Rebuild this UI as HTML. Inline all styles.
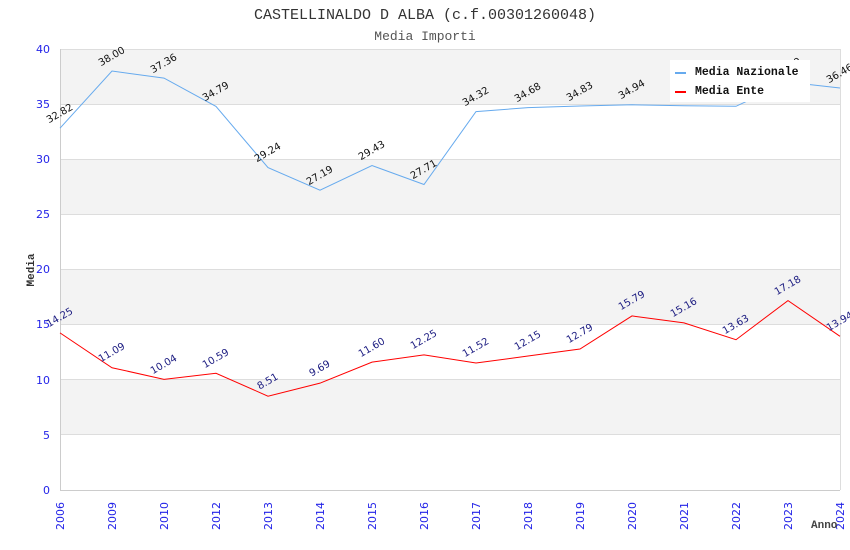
<!DOCTYPE html>
<html>
<head>
<meta charset="utf-8">
<style>
  html,body{margin:0;padding:0;background:#fff;}
  svg{display:block;}
</style>
</head>
<body>
<svg width="850" height="550" viewBox="0 0 850 550" xmlns="http://www.w3.org/2000/svg">
  <rect x="0" y="0" width="850" height="550" fill="#ffffff"/>
  <!-- title -->
  <text x="425" y="19" text-anchor="middle" font-family="Liberation Mono, DejaVu Sans Mono, monospace" font-size="15" fill="#333">CASTELLINALDO D ALBA (c.f.00301260048)</text>
  <text x="425" y="40" text-anchor="middle" font-family="Liberation Mono, DejaVu Sans Mono, monospace" font-size="13" fill="#555">Media Importi</text>

  <!-- bands -->
  <rect x="60" y="49" width="780" height="55.125" fill="#f3f3f3"/>
  <rect x="60" y="159.25" width="780" height="55.125" fill="#f3f3f3"/>
  <rect x="60" y="269.5" width="780" height="55.125" fill="#f3f3f3"/>
  <rect x="60" y="379.75" width="780" height="55.125" fill="#f3f3f3"/>
  <!-- grid lines -->
  <g stroke="#dddddd" stroke-width="1">
    <line x1="60" y1="49.5" x2="840" y2="49.5"/>
    <line x1="60" y1="104.5" x2="840" y2="104.5"/>
    <line x1="60" y1="159.5" x2="840" y2="159.5"/>
    <line x1="60" y1="214.5" x2="840" y2="214.5"/>
    <line x1="60" y1="269.5" x2="840" y2="269.5"/>
    <line x1="60" y1="324.5" x2="840" y2="324.5"/>
    <line x1="60" y1="379.5" x2="840" y2="379.5"/>
    <line x1="60" y1="434.5" x2="840" y2="434.5"/>
    <line x1="840.5" y1="49" x2="840.5" y2="490"/>
  </g>
  <g stroke="#cccccc" stroke-width="1">
    <line x1="60.5" y1="49" x2="60.5" y2="490"/>
    <line x1="60" y1="490.5" x2="840" y2="490.5"/>
  </g>

  <!-- y tick labels -->
  <g font-family="DejaVu Sans, Liberation Sans, sans-serif" font-size="11" fill="#2323e8" text-anchor="end">
    <text x="50" y="53">40</text>
    <text x="50" y="108">35</text>
    <text x="50" y="163">30</text>
    <text x="50" y="218">25</text>
    <text x="50" y="273">20</text>
    <text x="50" y="328">15</text>
    <text x="50" y="384">10</text>
    <text x="50" y="439">5</text>
    <text x="50" y="494">0</text>
  </g>

  <!-- x tick labels -->
  <g font-family="DejaVu Sans, Liberation Sans, sans-serif" font-size="11" fill="#2323e8" text-anchor="end">
    <text transform="translate(64,502) rotate(-90)">2006</text>
    <text transform="translate(116,502) rotate(-90)">2009</text>
    <text transform="translate(168,502) rotate(-90)">2010</text>
    <text transform="translate(220,502) rotate(-90)">2012</text>
    <text transform="translate(272,502) rotate(-90)">2013</text>
    <text transform="translate(324,502) rotate(-90)">2014</text>
    <text transform="translate(376,502) rotate(-90)">2015</text>
    <text transform="translate(428,502) rotate(-90)">2016</text>
    <text transform="translate(480,502) rotate(-90)">2017</text>
    <text transform="translate(532,502) rotate(-90)">2018</text>
    <text transform="translate(584,502) rotate(-90)">2019</text>
    <text transform="translate(636,502) rotate(-90)">2020</text>
    <text transform="translate(688,502) rotate(-90)">2021</text>
    <text transform="translate(740,502) rotate(-90)">2022</text>
    <text transform="translate(792,502) rotate(-90)">2023</text>
    <text transform="translate(844,502) rotate(-90)">2024</text>
  </g>

  <!-- axis titles -->
  <text transform="translate(34,270) rotate(-90)" text-anchor="middle" font-family="Liberation Mono, DejaVu Sans Mono, monospace" font-weight="bold" font-size="11" fill="#333">Media</text>
  <text x="811" y="528" font-family="Liberation Mono, DejaVu Sans Mono, monospace" font-weight="bold" font-size="11" fill="#444">Anno</text>

  <!-- series lines -->
  <polyline fill="none" stroke="#66aaee" stroke-width="1" points="60,128.16 112,71.05 164,78.11 216,106.44 268,167.63 320,190.23 372,165.53 424,184.5 476,111.62 528,107.65 580,106 632,104.79 684,105.8 736,106.3 788,82.1 840,88.03"/>
  <polyline fill="none" stroke="#ff0000" stroke-width="1" points="60,332.89 112,367.73 164,379.31 216,373.25 268,396.18 320,383.17 372,362.11 424,354.94 476,362.99 528,356.05 580,348.99 632,315.92 684,322.86 736,339.73 788,300.59 840,336.31"/>

  <!-- Nazionale labels -->
  <g font-family="DejaVu Sans, Liberation Sans, sans-serif" font-size="10" fill="#111" text-anchor="middle" dominant-baseline="central">
    <text transform="translate(60,114) rotate(-30)">32.82</text>
    <text transform="translate(112,57) rotate(-30)">38.00</text>
    <text transform="translate(164,64) rotate(-30)">37.36</text>
    <text transform="translate(216,92) rotate(-30)">34.79</text>
    <text transform="translate(268,153) rotate(-30)">29.24</text>
    <text transform="translate(320,176) rotate(-30)">27.19</text>
    <text transform="translate(372,151) rotate(-30)">29.43</text>
    <text transform="translate(424,170) rotate(-30)">27.71</text>
    <text transform="translate(476,97) rotate(-30)">34.32</text>
    <text transform="translate(528,93) rotate(-30)">34.68</text>
    <text transform="translate(580,92) rotate(-30)">34.83</text>
    <text transform="translate(632,90) rotate(-30)">34.94</text>
    <text transform="translate(684,91) rotate(-30)">34.85</text>
    <text transform="translate(736,92) rotate(-30)">34.80</text>
    <text transform="translate(788,68) rotate(-30)">37.00</text>
    <text transform="translate(840,74) rotate(-30)">36.46</text>
  </g>

  <!-- Ente labels -->
  <g font-family="DejaVu Sans, Liberation Sans, sans-serif" font-size="10" fill="#1a1a80" text-anchor="middle" dominant-baseline="central">
    <text transform="translate(60,318) rotate(-30)">14.25</text>
    <text transform="translate(112,353) rotate(-30)">11.09</text>
    <text transform="translate(164,365) rotate(-30)">10.04</text>
    <text transform="translate(216,359) rotate(-30)">10.59</text>
    <text transform="translate(268,382) rotate(-30)">8.51</text>
    <text transform="translate(320,369) rotate(-30)">9.69</text>
    <text transform="translate(372,348) rotate(-30)">11.60</text>
    <text transform="translate(424,340) rotate(-30)">12.25</text>
    <text transform="translate(476,348) rotate(-30)">11.52</text>
    <text transform="translate(528,341) rotate(-30)">12.15</text>
    <text transform="translate(580,334) rotate(-30)">12.79</text>
    <text transform="translate(632,301) rotate(-30)">15.79</text>
    <text transform="translate(684,308) rotate(-30)">15.16</text>
    <text transform="translate(736,325) rotate(-30)">13.63</text>
    <text transform="translate(788,286) rotate(-30)">17.18</text>
    <text transform="translate(840,322) rotate(-30)">13.94</text>
  </g>

  <!-- legend -->
  <rect x="670" y="60" width="140" height="42" fill="#ffffff"/>
  <rect x="675" y="72" width="11" height="2" fill="#66aaee"/>
  <rect x="675" y="91" width="11" height="2" fill="#ff0000"/>
  <g font-family="Liberation Mono, DejaVu Sans Mono, monospace" font-weight="bold" font-size="11.5" fill="#111">
    <text x="695" y="75">Media Nazionale</text>
    <text x="695" y="94">Media Ente</text>
  </g>
</svg>
</body>
</html>
